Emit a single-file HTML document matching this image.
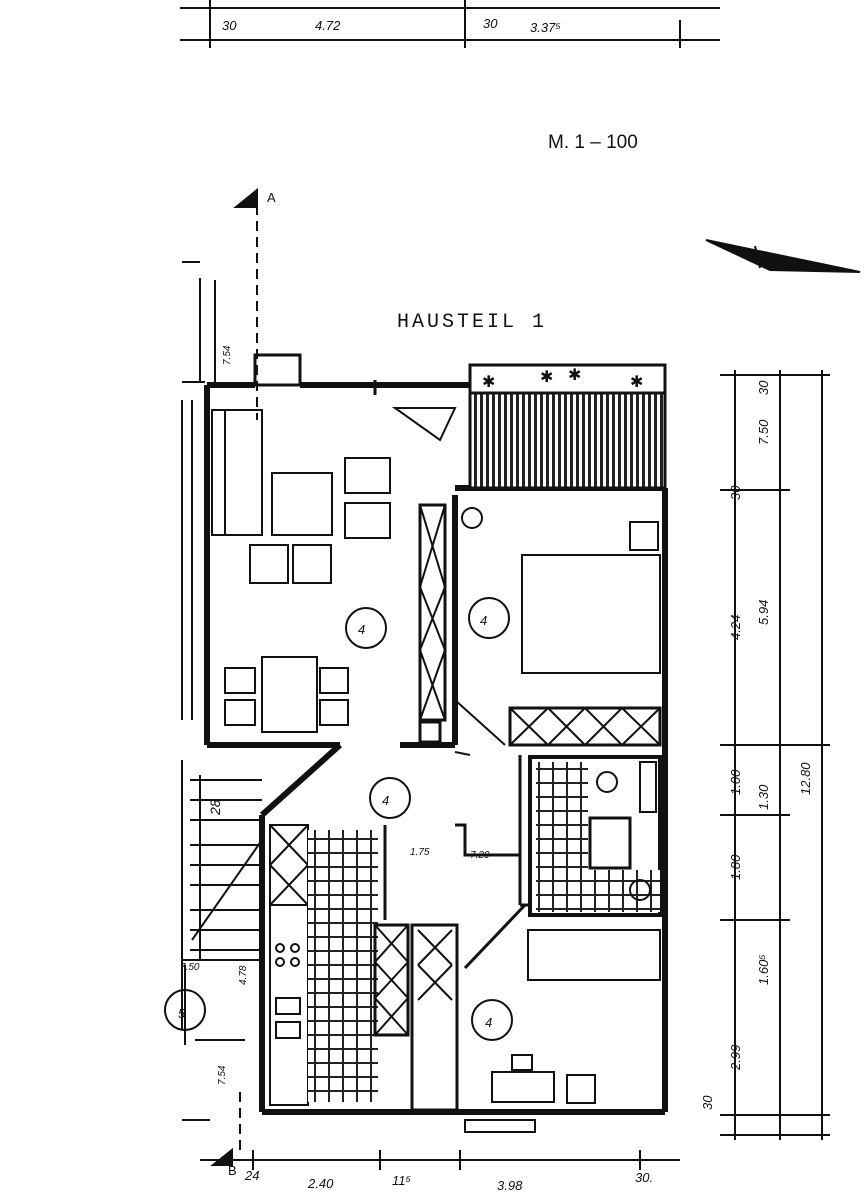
<!DOCTYPE html>
<html><head><meta charset="utf-8"><style>
html,body{margin:0;padding:0;background:#fff;}
svg{display:block}
text{font-family:"Liberation Sans",sans-serif;fill:#111}
.h{font-family:"Liberation Mono",monospace;}
</style></head><body>
<svg width="866" height="1200" viewBox="0 0 866 1200" xmlns="http://www.w3.org/2000/svg">
<defs>
<pattern id="hatch" width="6" height="6" patternUnits="userSpaceOnUse"><rect width="6" height="6" fill="#fff"/><rect x="0" width="3" height="6" fill="#222"/></pattern>
<pattern id="tile" width="14" height="14" patternUnits="userSpaceOnUse"><rect width="14" height="14" fill="#fff"/><path d="M0 13H14M7 0V14" stroke="#222" stroke-width="2"/></pattern>
</defs>
<g stroke="#111" fill="none" stroke-width="2">
<!-- top dimension -->
<path d="M180 40H720 M210 0V48 M465 0V48 M680 20V48 M180 8H720"/>
<!-- A section line -->
<path d="M257 205V420" stroke-dasharray="10,6"/>
<path d="M236 207L257 190V207Z" fill="#111"/>
<path d="M240 1150V1090" stroke-dasharray="10,6"/>
<path d="M213 1165L232 1150V1165Z" fill="#111"/>
<!-- north arrow -->
<path d="M706 240L860 272L770 270Z" fill="#111"/>
<path d="M755 246L760 268" />
<!-- left neighbour -->
<path d="M182 262H200 M182 382H205 M200 278V382 M215 280V385 M182 400V720 M192 400V720 M182 760V1030 M182 1120H210"/>
<!-- outer walls -->
<path stroke-width="6" d="M207 385H255 M300 385H470 M207 385V745 M207 745H340 M340 745L262 815 M262 815V1112 M262 1112H665 M665 488V1112 M455 488H665 M455 495V745 M400 745H455"/>
<path stroke-width="3" d="M255 355H300V385H255Z M220 385H470 M375 380V395"/>
<path d="M395 408H455L440 440Z"/>
<!-- balcony -->
<rect x="470" y="365" width="195" height="30" stroke-width="3"/>
<rect x="470" y="393" width="195" height="95" fill="url(#hatch)" stroke-width="3"/>
<g font-size="16" fill="#111" stroke="none"><text x="482" y="387">✱</text><text x="540" y="382">✱</text><text x="568" y="380">✱</text><text x="630" y="387">✱</text></g>
<!-- living room furniture -->
<path d="M212 410H262V535H212Z M225 410V535"/>
<rect x="272" y="473" width="60" height="62"/>
<rect x="345" y="458" width="45" height="35"/><rect x="345" y="503" width="45" height="35"/>
<rect x="250" y="545" width="38" height="38"/><rect x="293" y="545" width="38" height="38"/>
<rect x="262" y="657" width="55" height="75"/>
<rect x="225" y="668" width="30" height="25"/><rect x="225" y="700" width="30" height="25"/>
<rect x="320" y="668" width="28" height="25"/><rect x="320" y="700" width="28" height="25"/>
<rect x="420" y="505" width="25" height="215" stroke-width="3"/>
<path d="M420 505L445 587M445 505L420 587M420 587L445 650M445 587L420 650M420 650L445 720M445 650L420 720"/>
<rect x="420" y="722" width="20" height="20" stroke-width="3"/>
<circle cx="366" cy="628" r="20"/><circle cx="489" cy="618" r="20"/><circle cx="390" cy="798" r="20"/><circle cx="492" cy="1020" r="20"/>
<!-- bedroom -->
<circle cx="472" cy="518" r="10"/>
<rect x="630" y="522" width="28" height="28"/>
<rect x="522" y="555" width="138" height="118"/>
<rect x="510" y="708" width="150" height="37" stroke-width="3"/>
<path d="M510 708L548 745M548 708L510 745M548 708L585 745M585 708L548 745M585 708L622 745M622 708L585 745M622 708L660 745M660 708L622 745"/>
<path d="M455 700L505 745 M470 755L455 752"/>
<!-- hallway -->
<path stroke-width="3" d="M520 755V905 M520 905H530 M465 968L525 905 M455 825H465V855H520 M385 825V920"/>
<!-- bathroom -->
<rect x="530" y="757" width="130" height="158" stroke-width="4"/>
<rect x="536" y="762" width="52" height="150" fill="url(#tile)" stroke="none"/>
<rect x="588" y="870" width="72" height="42" fill="url(#tile)" stroke="none"/>
<rect x="590" y="818" width="40" height="50" stroke-width="3"/>
<rect x="640" y="762" width="16" height="50"/>
<circle cx="607" cy="782" r="10"/><circle cx="640" cy="890" r="10"/>
<!-- bottom room -->
<rect x="528" y="930" width="132" height="50"/>
<rect x="492" y="1072" width="62" height="30"/><rect x="512" y="1055" width="20" height="15"/>
<rect x="567" y="1075" width="28" height="28"/>
<rect x="465" y="1120" width="70" height="12"/>
<!-- kitchen -->
<rect x="270" y="825" width="38" height="80"/>
<path d="M270 825L308 865M308 825L270 865M270 865L308 905M308 865L270 905"/>
<rect x="270" y="905" width="38" height="200"/>
<rect x="308" y="830" width="70" height="272" fill="url(#tile)" stroke="none"/>
<circle cx="280" cy="948" r="4"/><circle cx="295" cy="948" r="4"/><circle cx="280" cy="962" r="4"/><circle cx="295" cy="962" r="4"/>
<rect x="276" y="998" width="24" height="16"/><rect x="276" y="1022" width="24" height="16"/>
<rect x="375" y="925" width="33" height="110" stroke-width="3"/>
<path d="M375 925L408 962M408 925L375 962M375 962L408 998M408 962L375 998M375 998L408 1035M408 998L375 1035"/>
<rect x="412" y="925" width="45" height="185" stroke-width="3"/>
<path d="M418 930L452 965M452 930L418 965M418 965L452 1000M452 965L418 1000"/>
<!-- stairs -->
<g stroke-width="2"><path d="M190 780H262M190 800H262M190 820H262M190 845H262M190 865H262M190 885H262M190 910H262M190 930H262M190 950H262 M200 775V960 M192 940L262 840"/></g>
<path d="M182 960H262 M185 965V1045 M195 1040H245"/>
<circle cx="185" cy="1010" r="20"/>
<!-- right dimensions -->
<path d="M735 370V1140 M780 370V1140 M822 370V1140 M720 375H830 M720 490H790 M720 745H830 M720 815H790 M720 920H790 M720 1115H830 M720 1135H830"/>
<!-- bottom dimension -->
<path d="M200 1160H680 M253 1150V1170 M380 1150V1170 M460 1150V1170 M640 1150V1170"/>
</g>
<g font-size="13" font-style="italic">
<text x="222" y="30">30</text><text x="315" y="30">4.72</text><text x="483" y="28">30</text><text x="530" y="32">3.37⁵</text>
<text x="245" y="1180">24</text><text x="308" y="1188">2.40</text><text x="392" y="1185">11⁵</text><text x="497" y="1190">3.98</text><text x="635" y="1182">30.</text>
<text x="480" y="625">4</text><text x="358" y="634">4</text><text x="382" y="805">4</text><text x="485" y="1027">4</text><text x="178" y="1018">5</text>
<text x="228" y="1175" font-style="normal">B</text><text x="267" y="202" font-style="normal">A</text>
<text x="180" y="970" font-size="10">7.50</text>
<text x="470" y="858" font-size="10">7.20</text>
<text x="410" y="855" font-size="10">1.75</text>
</g>
<g font-size="13" font-style="italic">
<text transform="translate(768,395) rotate(-90)">30</text>
<text transform="translate(768,445) rotate(-90)">7.50</text>
<text transform="translate(740,500) rotate(-90)">30</text>
<text transform="translate(740,640) rotate(-90)">4.24</text>
<text transform="translate(768,625) rotate(-90)">5.94</text>
<text transform="translate(810,795) rotate(-90)">12.80</text>
<text transform="translate(740,795) rotate(-90)">1.00</text>
<text transform="translate(768,810) rotate(-90)">1.30</text>
<text transform="translate(740,880) rotate(-90)">1.80</text>
<text transform="translate(768,985) rotate(-90)">1.60⁵</text>
<text transform="translate(740,1070) rotate(-90)">2.99</text>
<text transform="translate(712,1110) rotate(-90)">30</text>
<text transform="translate(230,365) rotate(-90)" font-size="10">7.54</text>
<text transform="translate(225,1085) rotate(-90)" font-size="10">7.54</text>
<text transform="translate(246,985) rotate(-90)" font-size="10">4.78</text>
<text transform="translate(220,815) rotate(-90)" font-size="14">28</text>
</g>
<text x="548" y="148" font-family="Liberation Serif" font-size="19">M. 1 – 100</text>
<text x="397" y="327" class="h" font-size="20" letter-spacing="3">HAUSTEIL 1</text>
</svg>
</body></html>
